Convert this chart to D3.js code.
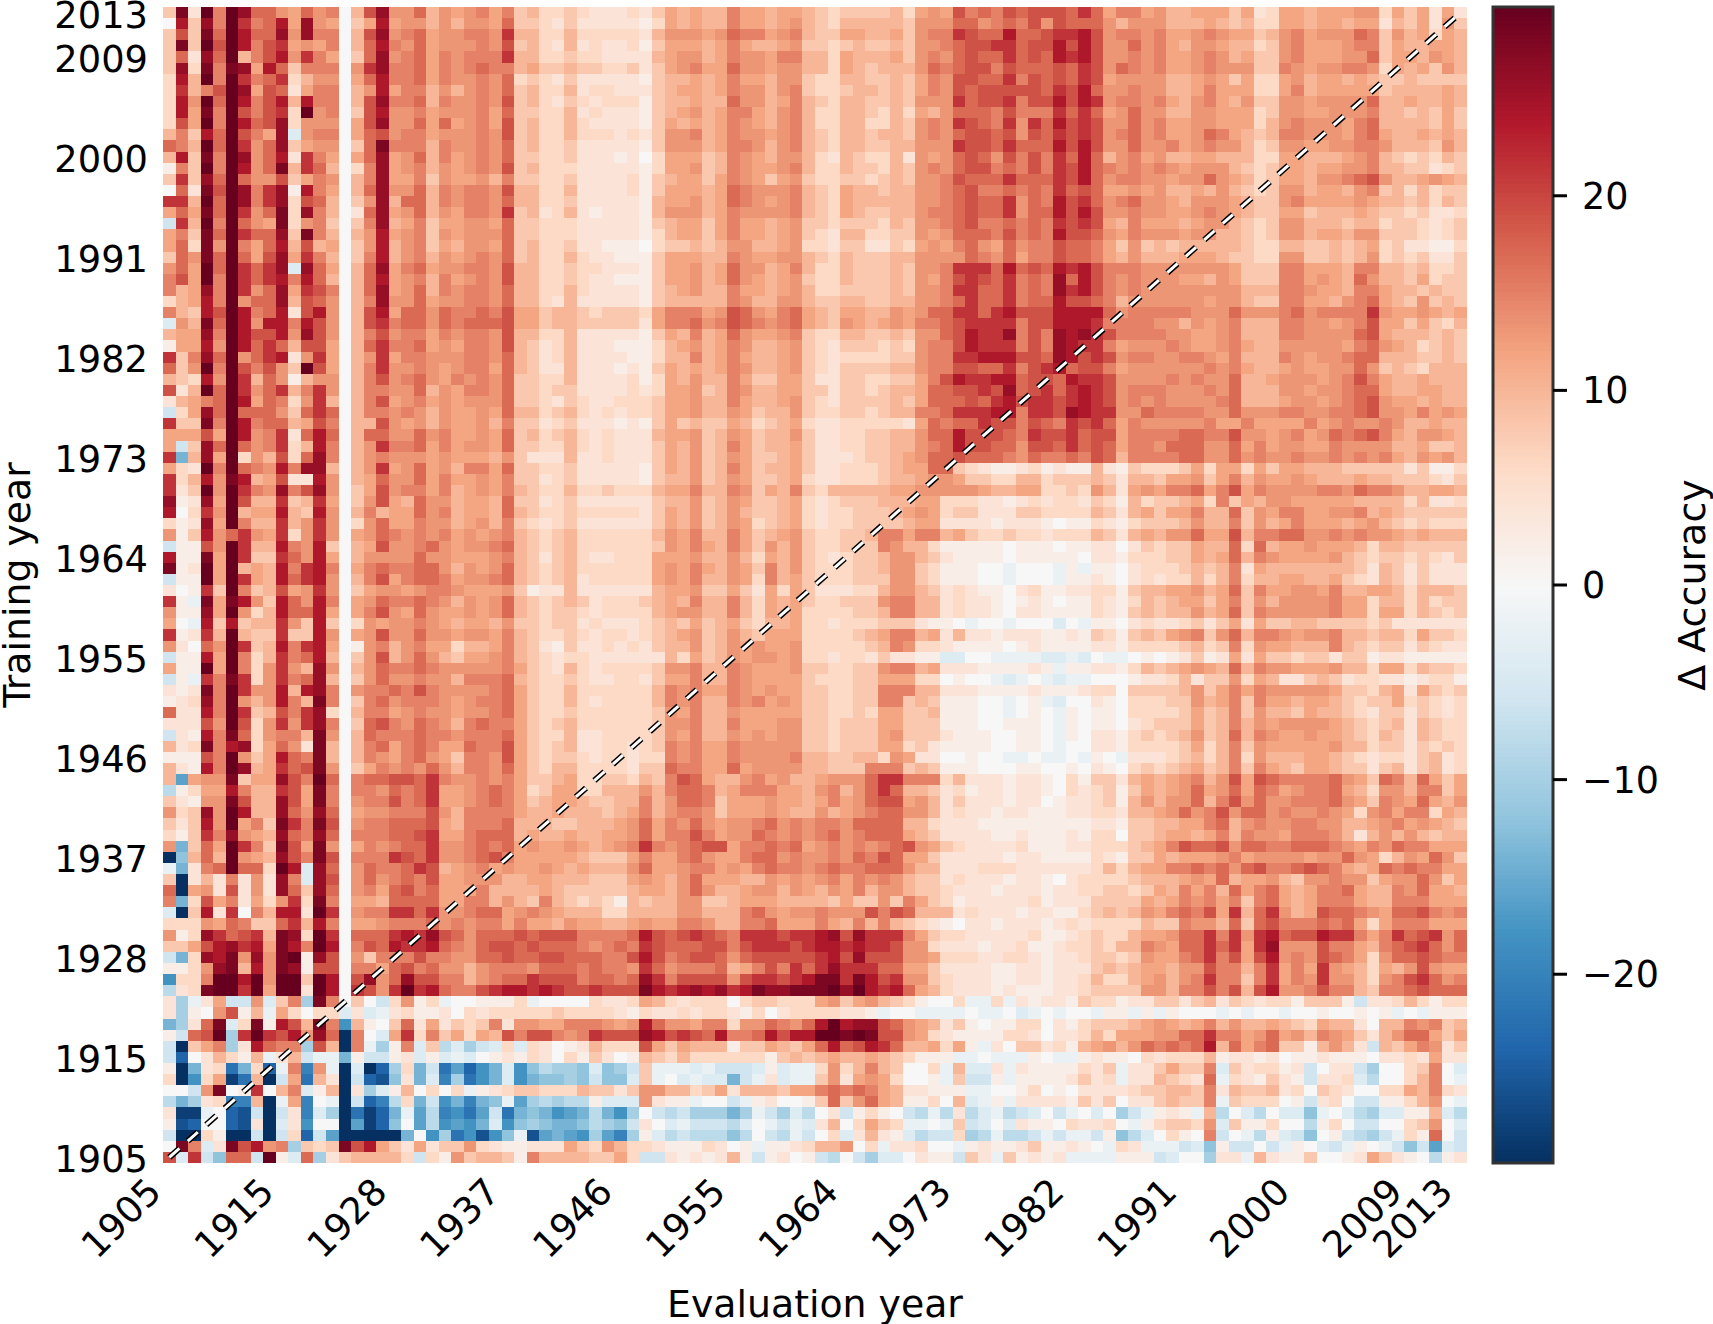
<!DOCTYPE html>
<html>
<head>
<meta charset="utf-8">
<script src="https://cdn.jsdelivr.net/npm/d3@7"></script>
<style>
html,body{margin:0;padding:0;background:#fff}
svg{display:block}
text{font-family:"DejaVu Sans",sans-serif;fill:#000}
</style>
</head>
<body>
<svg id="chart" width="1713" height="1324"></svg>
<script>
// Years absent from the corpus; every other year 1905-2013 has a row and a column.
const absentYears = [1911, 1916, 1917, 1918, 1919];
const tickYears = [1905, 1915, 1928, 1937, 1946, 1955, 1964, 1973, 1982, 1991, 2000, 2009, 2013];
const colorbarTicks = [-20, -10, 0, 10, 20];
const colorLimit = 29.7;
const colorStops = ["#053061","#2166ac","#4393c3","#92c5de","#d1e5f0","#f7f7f7","#fddbc7","#f4a582","#d6604d","#b2182b","#67001f"];

// Accuracy change per (training year, evaluation year). One string per training
// year, newest first; one base-36 character per evaluation year, looked up in
// accuracyLevels below. Spaces only group characters for reading.
const accuracyLevels = [
  -30, -28, -26, -24, -22, -20, -18, -16, -14, -12, -10, -8, -6, -4, -2,
  0, 2, 4, 6, 8, 10, 11.8, 13.2, 15, 17, 19, 21.5, 24, 26, 28, 30
];
const accuracyRows = [
"jthunusoomlomn f kpsmmokmlmnlnjkiijih hhihjlklkknllkllkjijjjjkilmlpnonpo pppoq olnnl mkkll ljlhi llkll lmmil jlhlh",
"frjsnuqnorlsml f jlrlmmkmkmmlojjihjhh hhhgilklkknllklmkjikkkkkjmmmoomnon pmpoo omkmm mkkkl kjkii llkll kllhk jlhmj",
"jpjtouroosmsnn f kpsmnolmmnnmqkkiikii iiihkmmmlmonnlmnkjjllkkljmnnqpooro opqqr pmnnm nllmn mlljk mnlmm monjm klilk",
"jtjupurnpqlmln f kornmolmmmnmpjkihkhi hhigjlllklnlkklmjjijkjjkjmmnoppqqo pprpr pmmom nlkmm lkkij mnlll mnnjl kkllk",
"johsouknprmqnl f josmnolnmnnnqkkiijii hhhhklmmklnmmlnnkkilkkkljmnmopooqo porqr pmmnm nllmn mkljj mnlll mmojl lkmlk",
"jsitntslrojnnn f mqsnnolnmnonnkljjkjj iijhjlmnllommlmmkkilkjkkkmonoppnpo oopoq pmonm nllmn mmmjj nmlmm nnmil kljmk",
"irkunuqnoqikmm f lornnolnmmnmoijihjhh hhhgjkklklnllkmmjiikkjjkjlnmppooqn popoq plmmm mkklm ljlii lmkll klkjj kjjjj",
"iqknpuslpohlnn f kmrlnnkmkmnmojkiikhi ihhhjkllklnmmkmnjiijkkjkjlnmpopppp poqpr ommnm mkkln lllii lnkll llljk kkklk",
"irmuournprkrnn f kpsnnoknmmnmpjkihjih iiigjkklkkommklnkjikkjjkjmmmqoppqn pprpr qmnnm nlkmn lkmjj mmlmm mmokk lkklk",
"irltnupnpqiumn f jprmmnlmmmnlojjiikhi hhhgjklmklnnlkmnkiikkjikilkmooonpn nnqoq olmom mkkmm lllij mmllm mmnkk jkjlj",
"iplunuropsimmm f lpsmmololmnlpjkiikih hhhgjlklklnmlkmnkiikkiikjmnmqponqm qorpq pmmom nllmm lllik mnmmm lnokk kkjlj",
"knjroupnlsdmnn f lopmnnlmmmnmpjkiikii ihihjmmnklnmmlmnkjikkjkkjmnmoppopm poqpq pmnom nllmo nlkjk nnmmm lnolk klklk",
"onkuouqmosjlmm f jotnnnknmmnmojkiijhh hhhgjmmmklnnmkmnkjikkjjkkmmmqppoqo oorpr pmmom mnlmn mmkij mmllm mnnmk kkjmk",
"krjtnusmorhqnl f loslmoknlmnmojjiijhh hghfillljknmlkmmkihkjiikhmlmopompn pnqor okmnl mkkll kkkii llkkk lmnkj ijikj",
"gnjunurmotkqok f inslmnkmlmnmpjkiiihh hhhgillmjknmllmnkiikjjikjmnmoppnon pnqpr onmnm nmlmm mkjij llkll mmnkk jjhij",
"jqjsouommpjlnm f knsllnjmllmknjjiijhh hhigjklljlnmljlmjiijjijkjmmnpoooqo ooqpr omnnm mlmmo mlkij llkmm nopmk klmlk",
"fohtpusnqsgrnl f kosmmoknmnnmpkkiikhh hhigjlllklonmmmnkjilkkjkkmmnopnnon onqop ollml mkklk mkjij mmkll kmnjk ikijj",
"qqkuousnqsipok f jmskooknmnnmokkiijhh hhhgkllmklonmlmnkjilkkkkkmmnopooqm onrpq omnom mlkmm mlkjj mnlll lmlkk jkikj",
"loltouqmotisnk f hoslmokmlnnmqjkhikhg hhhgkmmmklnmmmmnkjilkjjkkmnnopooqm oorpr pmmnm mllmn mlkjj lljkk klkjj ijhhi",
"cqkunuomltimnj f jnsklnjllmmlojjiiihh hhhgjklljlnllklmjjijjjikjmmnopnnon onqpq plknl llklm mkjij mmkkk jkkij jihij",
"lnjtouqoosjtnk f kmrlmnjmlmmmojjiiihh hhhgiklljlnllklmjihkkiijjmlmooonpn onrpp omlnm mmlmm kkjij mmkll kmmjj jihij",
"loitmunlorkpkl f jmrkmnjlkmmlojkiijhh gggfijjkjkmmkklmiihjjhhjilmlnomlom nnpoo nljmj kjkkk kkjii kkjjk jklij hhggi",
"jomtouolpslqnk f jnrkmnkmlmnmojkiikih hgggjlllkknmllmmkjikjjjkkmmmmonmol nnpoo nlkmk kklll kjjii mmjjk jkmij ijhhj",
"moluouqoqsdsol f koslnolmmnnmpkkiijii hhhgjllmklommklnkiikjjjkjmmnqqqoro porqr pnnnm mmmmm mljjj nnlll knnkk jkiij",
"nplunuqoqrnrok f korlmnknlmnmpkkiijih hgggjllmklomlklmjiikjjjkjmlnpqpoqn onsor pnmnm mmllk mljjj nnlml komkk jlijj",
"nklsnuqmoslqpn f koslmoknmnnmokkiikih hhhgjklmkknllklmkiijjjjkjmmnqqooqn onsqr pnmnm mmmmm mmkkk nnmll knnlk kjkjj",
"iklrnumooskpom f knsmmolmmnnmokkihkhh hhhgjkkkkknmkkmmkjjkkjjkkmmnoqooqn oorpp onkmm mmmml mmkjj nnllk mnolk jmjkj",
"nkjrpurnorhprm f kprloomonnonplljkkji jjjilnnnlmpomlnolkjllkkmlmooqqoqrp pprrr romnn nnnmm mommm nomnn nnqml lmlkl",
"dmktourmrrnrpm f kpqnoomonoooplljkkjj jjjhlnnomnponmnolkjmlklmlnnopqqqqn pprrr qnnnn mmkml mnkkk nnmml mnpll jljik",
"kllsnurpprmspm f knpmnnlnmnnmpkkiikhh hhhgjlknklomllmnjiikkjjkjmmoprqqsn pnsrs qpnnn nmmll mnkkk nnmmm moplk kkjkj",
"gllrmuroqokppl f koqnnolmlnnmpkjhikhh hgggiklmklnmkklmjihjjjijimnnprqqqn pnsrq qnlmm mnmll mnlkk mmmmm lnoml kijkj",
"qjnsoumoqrhmql f kmqlnnmmmnnmokjhikhh hhggikknklnlkklmjihiiiijjmnnqqrrrp posrp qpmnn mmnnm lnkkk nmlmm nookk kjjkj",
"ojmunupnpmjupl f knqmmnmlmnnlokjhhkhh hghgjlklklnmkklmjihjjjjkkmnnppooqn pqrop pnlmm mmmmn mnlkk lmllm momjk jikkk",
"kjirmuqkomgkmm f knpmnomlnmnmojjiikhh hhigilkmkknljjlljhhjjiijjlnprqqrro pporq qpmmm mnmnm mokkl mmmlm npnlk klkkk",
"phkuouqmoqknqm f knnmmokmlnnmojjijjhh hhihillmjknmkklljjhjjijkkloopp qpso pqoqr qpmnn nmmmn mokkk mmlmm noolk kllkk",
"hklnourlonimqk f knplmnlmlmmmojjihjih hiiijllmkknlkklmjihjjjjkjlooopoqrp qqpqr qpmnm nmmmm nokkk lmmlm nopml lklkk",
"cilsouooomjoqo f knnmnmkmllmlokkijkih ihiijllmkkmljkkmjiijjijkknnoqqqrrn qqpsr qqmmo nnnnm mommm nnmmn nopmm lnlml",
"qjjtnurnooklpn f kkpmlmkmllmknjjhijhh hghgjljkjjlkijklihhiiiiihlonooqppn ponqp qolnm mmmmn llnll llnlm nmmnm kklkk",
"lllplurmnqhoro f koommomnllmlojkijkih ihhhkllmjkmljkkmjhhiijjkkmoorpppon qppqo pplnn nnoon npmml mnlmo nopnl kmmlk",
"lcjsouomnqikrn f kmqnnolnlmmlojjiikih ihhhjlkmjknljkkljhhiijjkkmnorppoom ppoqo polnn mooom molnl mmlln mmmmk kljjk",
"q8ksluimkpiosn f kmnmmmlmlllkmjhhhkhh ihhhjlkmjkmljjkljhhhijjklmoopooonm onnon poknn nnoom momnm mnmmn mnmnl kmlmk",
"lihunuonmrnssk f kmqlmolmknnlojjiijhh hhhgjlkmjknljkkljhhiiijklloojihggh ighgg khgji iijli llilj llkkk jjjjj hjggi",
"qikrmtrklphhrm f klommolnllmlnjjhijhh hhhgjkkmjkmljjklihhiiijkklmmljjiik kijjj kjhkk jllmj lnkml lmlkk klkkj jjihj",
"qhjumuqnmsnpsm f jlpmnnlnklmlnkjiikii jiiikllnkknmjlknjikkkkkllmmmmmlkkl liiji mkhlm lnnol nplnm mmmnn monnm kkllk",
"sghslupkkqjkql f jmplkommkllkojjhijhh hhhhjkkmjkmljjklihijjjkkklliiihhgh ihiih jigki jjkli njlkm mllll lkkkk ikhhi",
"rfiqmukllrkjrm f knkllomnkllkokjiijii iiihjlkmjkmkjjklihiijjjklmlijjhhhj jiiii kjhkl jllnk kojml nnllm mnklk jjjjj",
"ighslunkkqkmqm f imollnmmklmknjihijhh hhhhjlkmjkmlijklihiijjjjkllhhhhghh hgfgg ihgij jjkmk knjmk lnlll klmkj ijiii",
"mgjrmoqmlqimqm f lmonmnmnlmlmnkjijkii iiiikmlnkknljklmjiijjknnlnnkljiiji ihiii kjhkl kmmol lpknn oommn mnmml klkkk",
"cggpmuqkkrnmrj f klpmmnomlmmnokjijkii iiiijmlnlknljmkmjiijjjnmkkigggggfg ggfgg hhfhj ijjlk koiok llmll lkikk jjjjj",
"rggtluqjjqomrl f kmmmmommlllmnkjhjkih hiiilllmkkmkilkmjihijjkmmkjhggggfg ggggf hhgii ijjlk loknm llllm kjijj ijihj",
"tghuluklkrnqrn f lnonnoomkmlmokjijkii iiiilmlnlkmljnkmjiiijjkmmjigggffef ffege ggfhi iijkj knhlk kkkkk kjhkj hjhhh",
"cgguluqlkroqrm f knplnoonlmmnokjijkhi iiiilmlnkkmlinkljiiijjjmmjigggffef ffegg hgfhi hiiki knikk llkkl jihkj hjhhh",
"hfgqjunjkplmqm f jlmmlmnnmlllmjghhkhh hhhhkllmjjljhliljhhhiikmmkjhihggfh igghh iigjk kllmk lojnl lmmln kkllk ikkkj",
"qgetltrmjromrn f lmonnonmkmlmokjijkjh iiijklknkknkilkljiijjjmnnkkhihhgfg hgfgg ihgik jkllj lnjmk mmmmn llikk ikijj",
"mggslumikroorl f lnpmlomllmlmokjijjih iiiiklmmkknkilkliiiijjknnkkhihhgfh hgggg ihgjk jkkmk lojnm mmmmn llill ikjij",
"lferjrjkkqmjrj f imlmmnmlkllkmjjijjhi hhhijkjljkljikkliihiiijjjhggfeffef ffdfe ggfhi hhijh jlhlj jkkjj jjijh hhhhh",
"qghqkukjjqjjrm f lmpmmommlmmlnkjiijih iihijklmjkmkjllliiiijklnnklhkhhghh hgghg jigjk jlmnj moknn mlmmn kkjkk iljji",
"mhfomuqjkrnqrl f gmnkmnllikklnkjhgjhh ihihjkkmjkmlmllmiiiiijknmiihggggfg hgggg hhgii iijki jniml lkkkn kjijj hjihh",
"cggrlunikqnork f jmpkmomkjllmnkjihiih hhhhhkiljkmlmmlmiihiihjhhggddffeee edded feefg fghjg hlhlj jijjh jjghh ggggg",
"lggulunimqmksm f kmonnonmmmmmnljihkih iiiijmmnkknmlllmjjiijjmnnklhhhgggg hgegg hhgik jklml koknm mlllm kkill ikjji",
"cgeqntqimqnosk f jmommnmmknnnokjiijih hiihjllnkknmlllljiiijjllliifgffede fedee fffgh hikhj jmilk hhjkj hiihh ghiig",
"hghtnuqmmrkrsn f mnnonpnmmmmnoljiikii iiiiknmnllnmlmlljjiijjnnnkkhhhgggg hgggh iifjj jjkmj lnlnm mmmml jjikl hljij",
"ghisnumkmrnktn f jnomnnnmlmnnoljiikih iiiiknmnkknmnlmljjiijjnnjkjgggffef gedff hgfii ijjmk lnjnl lkllk jijjl ijihi",
"ohhrnuqjkpnqsi f knnlmnmmlmmnoljiijii iiiijmlnkkmllllljjiijilljjkgggffef gfegf ggfii iijlj knjmk kjlkk jihjj hjihi",
"hhhpmupimqmqsn f jopnmonmknonnljijkii iiiijmmnkknlllmmjjijjjlljjjgggffgg gfegf ggfhi jjjlj knkml mmmml kjijk hkjii",
"chgrntoimnnktm f konnnonnmnnnoljiikhh iiiijmlnkkmlmlmmjjijjjlmjjjhgggffg gfegf hhgij ijkmj koknm llmll kjikj hkjii",
"khitnrsilomhtk f knolnonllonnpljijkhh iihijnmnllnmmmmmjjijjjllijhggggffg gfeff hhgii iijli knjml llllm kkijj hjiji",
"gggpnumjlrontk f knmlnomljnnmpljijjih iihiinmnllnmmmmnkkjjkkimlhhffgffee feefe gfehh hijki knimk kkllk jihii hjkhi",
"khgrnusklqoptm f jlnmnmomknnmoljikkii iihjjonnllolmmmmkkjjjnnnjkjgggfffg gffgf hgfij ijklj knjnl kjllk jjhjk hjkhi",
"k7lmmtjllspnuo f nooppoqnmmnmnljjklii jjikjnpolkkmnlmkklmmmoqqnnnikhhhgh hgfig jjhkl klmnk mplpo nnnno mljon koljl",
"bgillrnkkqpltn f nnmonoqllmnonlijllii kkkmknoonklnnnllkmnkmoqokkjhighhgh hgfih ijgjl klmol molon lmnno lkimm knnjl",
"jhgmmtpkkspltn f mnnpnoqllmnonljkllkj jkknkmoonjlllmllklnlmopplmkhjhhhgh hfghh ijgkm kmmok npmom mnnno mljnm lolkm",
"mijsmurk ksomsofl mmnnnpmk nnnnlkkl kkkjklnk mnnmjlll mlkkmklm noommkhi hhghhggg hhiihkkl momnpmoo mnmmnmli mnlnnilk",
"jhjrmuln jtqntpfm nnoooplk nnnokkkj jkkklmol nmomlmmn omnmnnmo oookkihh hggggggg gghhgjjk kllnokmn mmnnmmkk lmnlmlkj",
"igjqnsml ksonsofn nnoopqll noooklkk lkkllmol nnpnlmmo nmnmnomn ooolkjhh hhgghggg hgiifjjk llklnknm mlnnnmkh kmkmkjkk",
"m8joluqn jtpltmfl nmnooqmm nonolmll mlklmnqn mnopplnn onolmnmn mnopmlji hhhhiggg hhiiijkl npoopmoo nnooonml nmonnlll",
"09kokuml kspntpfn nnqpoqmm nopnllll lkjjjlnl lnomllno omnmmnmo npolljhh hhhghhgg ggihgjjl klllmnlm mmmlmmom likmlomj",
"e8hnouoo iurdsofm onnoqpkl mnlmllml klkkkmol lmnnlmln onnmnonn ooomkkhh hiiihhhh hhikikll nnonomop nnoponlk lononnll",
"j0hkhnhm hsndspfm omnonpll mmmkkllk kkjjjlml kmolllkk mlmlmnln mnmkjjhi hhhghhgf hiiiijkk klmlokll mkjmmnmm jlmmomjl",
"o0lmhphm hsojsofm nlopnoll lnkkkklk jjjjjkll kmomkklm mkmlkmln kmmkjjih hhghhhgh hiijjijl knlnkoln olklnnol kknmollk",
"n8iplnhl imqitnfl lkooooll nnkmkjnk jijigkjk kmmjjkll lkkkkjlj jmjnljig hhhhhigh hhjjjjlk lnmnlnjn olklnnnl kknnnlll",
"d0jrhqfn krrhuqfm nnqqoqmm noolmnml kkkiikkk kmmkkkno mlmmnmmm pnpokkkh ihhhghhg gijkjkml nonplqko qmklpoon mloopnmn",
"iiimlonj joqkrnfl lmnnnomn mnnlnllk mllkklml lnnmkknn olllnlkn knkjihgf hhghhhgh ihiiiikj jnmmkojo pnnnonol ilnnnlll",
"mgisqopq ktsiuqfo ooqrqspo mooopopp pnnnnorp opqponqq qpqqrsps qqqnljii hhhhhigg hijiikll mooqnqmq ropprqqn lnqopqmo",
"jjlprsqr ltrnurfn porqqron moppopoo onmnonqp oooppnpq qqpqrrqr qqpmmihh hghhiggh iijikknm looqoqlq smmmpnnl knopqomo",
"c8isrtms mtugspfm jnnnpnnm moopoopp ooonnprp noppomop ppppqrps pppmmlii ihhiihgh hijjijml lnoqnplp rmnmponl imooponn",
"ggimstkr mtsgppfn nlopnomm kmnnnmoo ononnmqo mnnnokln pnqoqsqq qoolljhh hhgghhgh hhjkjkll kmmpnnkn qlnlqmlk ilkmpmll",
"6iinuuru muujurfp smosppnn kmnooqpp pnoonosq nppppmpq qpqrttqt rpqmmjih hhgghhgh hikiiklm kmnqnnjn qlnmqmmk imnpqomn",
"bhituuqu luuhurfq pmquqron npqrrqrq ppqppptr qrsrsqrt sstttusu rqrolkih hhghgggh hijjjjmm knnpnpkp rmmnpnnk jnnopooo",
"haehlccm djnatnfj fcimgief fgggieff ffihhilk ihiiifij jiiilmjl mkjigffi eeiehghh gjiighhj jhjkhjih iigjjjgc hhikigii",
"hagfmpgk elifiidh dehigghf ihiiiiij iiiihgih hihiihgi fhiiiihh geffeeee feefdefe ffeggege gfffefef feffgffg fgefeggg",
"8ahotdit grpktn6k gfjohlhj ijnhmmll nnnmlmro mmlnnimm onmorurs spomlkhj gfggiifh gijjjklm lklnkmkk lkjilkkh fkknmnjk",
"gcopuaqu qprmso0n fdlqinjl ilkpnppn mnqpppsr pqpornno rprruutu tppmlihg gggiihfh hikilllm mooqnnlm olmknmlj hkmooljl",
"c0jlnahr onnapk0n eagndjbd acdidihf ghkiiipl jlkkkgjj lkjlorop rqokklil gehfjjhi gklmkmon onorkoln ojjgkmkh ckjlnmhj",
"c3fhkigk ehkcee8g ccghdgde dfghgihf igjhfgkj ikiiiiii gjkjklkk lkjiggge efeeegfe eghggfih iiikghhg hfgghggg fhhihlhh",
"g08hi48i 3en5me0d 03ai8c47 368d69ba a9d9acje eedecccd gdeeimik nkjffiek ddhehggg gihjehhj ljjndjhi ighcfhhc affijnfd",
"i06il14k 0cl4kh0c 329h8d5a 468d6899 a9c99dje fdedd8ce hdeejmhl mliffgej ccgegggg hjhiehhk jihoeihg jhgchhid bffiknfe",
"ffcmtfgq fkndgk0h adgkfifi eghijjii ikjjhjmm kkijlhkk kjllnono nlkhhggg eeffgifg fhhhhijj kkjnhkjj khifjihf fiilknih",
"b8ahi55k 0el5fe0c 35bi8c68 589e7aba bbgdddmh ggeffceg hffgjojm olkggifk degehhhh gjhjfhhj kjjnejii ifgchifc cggikmfe",
"h11ef32c 0ch5da04 138e7b56 47c48986 78b86afc bcaaa8ae cadbfhcg igfcbebh bdebcdfc efdfaceg hgekbfdb fdd9efdb addggkdb",
"g23ff32h 0dh6ff07 139f7b67 68d69a98 89ba9chf decccbdf ecedhkfi ljieefej cdfdhggf ihhifegi jjimdjgg iffbgifc cffijmfd",
"c00ig00c 0ci3c700 0008f6a4 6269e278 76a75agd bcbbb9bf cbecfidh khgdbcci abebbcec eecg9bdf igfncfeb gdc9fgcb aceigofc",
"ftndhtpr mnajijtp rljhlhjj mihgghhh ljimkiih gggihfge gghikkmf iehhiffe ghgghjgg hgfeihee ecd9gccf cegfdceg fec9c7dc",
"pdqc9ooc ugdoahjk kkkicigm jkkjgnkk kkjjlicc hghghkgc ghfgcbfc addfhggc jhejghgh eeeegggc dffahhek hggjffgh ljhgfbgh"
];

const evalYears = d3.range(1905, 2014).filter(y => !absentYears.includes(y));
const trainYears = evalYears.slice().reverse();

const cells = accuracyRows.flatMap((row, r) => {
  const codes = row.replace(/\s/g, "");
  if (codes.length !== evalYears.length) throw new Error("row " + r + " has " + codes.length + " cells");
  return Array.from(codes, (ch, c) => ({
    train: trainYears[r],
    evalYear: evalYears[c],
    value: accuracyLevels[parseInt(ch, 36)]
  }));
});

const svg = d3.select("#chart");
const plot = { left: 163, right: 1467, top: 7, bottom: 1163 };
const bar = { left: 1493, right: 1553 };
const tickSize = 36.8;
const titleSize = 37.8;

const x = d3.scaleBand().domain(evalYears).range([plot.left, plot.right]);
const y = d3.scaleBand().domain(trainYears).range([plot.top, plot.bottom]);
const color = d3.scaleLinear()
  .domain(d3.range(11).map(i => -colorLimit + i * colorLimit / 5))
  .range(colorStops)
  .clamp(true);

// Heat cells
svg.append("g").attr("shape-rendering", "crispEdges")
  .selectAll("rect").data(cells).join("rect")
  .attr("x", d => x(d.evalYear))
  .attr("y", d => y(d.train))
  .attr("width", x.bandwidth() + 0.3)
  .attr("height", y.bandwidth() + 0.3)
  .attr("fill", d => color(d.value));

// Diagonal where training year equals evaluation year: a white dash edged in black
const diagonal = d3.line()
  .x(d => x(d) + x.bandwidth() / 2)
  .y(d => y(d) + y.bandwidth() / 2);
const diagonalYears = [evalYears[0], evalYears[evalYears.length - 1]];
[["#000", 6], ["#fff", 3]].forEach(([stroke, width]) => {
  svg.append("path")
    .attr("d", diagonal(diagonalYears))
    .attr("fill", "none")
    .attr("stroke", stroke)
    .attr("stroke-width", width)
    .attr("stroke-dasharray", "13.5 11.2");
});

// Evaluation-year labels, slanted so their ends meet the column
svg.append("g").selectAll("text").data(tickYears).join("text")
  .attr("font-size", tickSize)
  .attr("text-anchor", "end")
  .attr("transform", d => `translate(${x(d) + x.bandwidth() / 2 - 6},${plot.bottom + 31}) rotate(-45)`)
  .text(d => d);

// Training-year labels
svg.append("g").selectAll("text").data(tickYears).join("text")
  .attr("font-size", tickSize)
  .attr("text-anchor", "end")
  .attr("x", plot.left - 15)
  .attr("y", d => y(d) + y.bandwidth() / 2 + 15)
  .text(d => d);

svg.append("text")
  .attr("font-size", titleSize)
  .attr("text-anchor", "middle")
  .attr("x", (plot.left + plot.right) / 2)
  .attr("y", 1317)
  .text("Evaluation year");

svg.append("text")
  .attr("font-size", titleSize)
  .attr("text-anchor", "middle")
  .attr("transform", `translate(30,${(plot.top + plot.bottom) / 2}) rotate(-90)`)
  .text("Training year");

// Colour bar
const barScale = d3.scaleLinear().domain([-colorLimit, colorLimit]).range([plot.bottom, plot.top]);
const barSteps = d3.range(256).map(i => -colorLimit + (i + 0.5) * 2 * colorLimit / 256);
const stepHeight = (plot.bottom - plot.top) / 256;
svg.append("g").attr("shape-rendering", "crispEdges")
  .selectAll("rect").data(barSteps).join("rect")
  .attr("x", bar.left)
  .attr("width", bar.right - bar.left)
  .attr("y", d => barScale(d) - stepHeight / 2)
  .attr("height", stepHeight + 0.5)
  .attr("fill", d => color(d));

svg.append("rect")
  .attr("x", bar.left).attr("y", plot.top)
  .attr("width", bar.right - bar.left).attr("height", plot.bottom - plot.top)
  .attr("fill", "none").attr("stroke", "#333").attr("stroke-width", 3);

const barAxis = svg.append("g").selectAll("g").data(colorbarTicks).join("g")
  .attr("transform", d => `translate(${bar.right},${barScale(d)})`);
barAxis.append("line").attr("x2", 14).attr("stroke", "#000").attr("stroke-width", 3);
barAxis.append("text")
  .attr("x", 29).attr("y", 13)
  .attr("font-size", 36.5)
  .text(d => d3.format("d")(d).replace("-", "\u2212"));

svg.append("text")
  .attr("font-size", 38)
  .attr("text-anchor", "middle")
  .attr("transform", `translate(1705,${(plot.top + plot.bottom) / 2}) rotate(-90)`)
  .text("\u0394 Accuracy");
</script>
</body>
</html>
